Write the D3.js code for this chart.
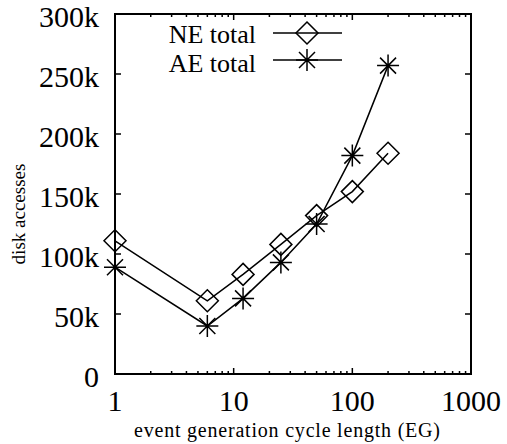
<!DOCTYPE html>
<html><head><meta charset="utf-8">
<script src="https://cdn.jsdelivr.net/npm/d3@7"></script>
<style>body{margin:0;background:#fff}svg{display:block}</style>
</head><body>
<script>
const xValues = [1, 6, 12, 25, 50, 100, 200];
const neTotal = [111000, 61000, 83000, 108000, 132000, 152000, 184000];
const aeTotal = [89000, 40000, 63000, 93000, 125000, 182000, 257000];
const yTicks = [0, 50000, 100000, 150000, 200000, 250000, 300000];
const yTickLabels = ["0", "50k", "100k", "150k", "200k", "250k", "300k"];
const xTicks = [1, 10, 100, 1000];
const xTickLabels = ["1", "10", "100", "1000"];
const seriesNames = ["NE total", "AE total"];

const FONT = "'Liberation Serif', 'Times New Roman', Times, 'DejaVu Serif', serif";
const W = 507, H = 444;
const m = {left: 115, right: 471, top: 14, bottom: 374};
const svg = d3.select("body").append("svg").attr("width", W).attr("height", H)
  .attr("font-family", FONT);
const x = d3.scaleLog().domain([1, 1000]).range([m.left, m.right]);
const y = d3.scaleLinear().domain([0, 300000]).range([m.bottom, m.top]);

// minor ticks
const minor = [];
for (let d = 1; d < 1000; d *= 10) for (let k = 2; k <= 9; k++) minor.push(d * k);
const g = svg.append("g").attr("stroke", "#000").attr("stroke-width", 1.5);
minor.forEach(v => {
  g.append("line").attr("x1", x(v)).attr("x2", x(v)).attr("y1", m.bottom).attr("y2", m.bottom - 3);
  g.append("line").attr("x1", x(v)).attr("x2", x(v)).attr("y1", m.top).attr("y2", m.top + 3);
});
xTicks.forEach(v => {
  g.append("line").attr("x1", x(v)).attr("x2", x(v)).attr("y1", m.bottom).attr("y2", m.bottom - 6);
  g.append("line").attr("x1", x(v)).attr("x2", x(v)).attr("y1", m.top).attr("y2", m.top + 6);
});
yTicks.forEach(v => {
  g.append("line").attr("x1", m.left).attr("x2", m.left + 6).attr("y1", y(v)).attr("y2", y(v));
  g.append("line").attr("x1", m.right).attr("x2", m.right - 6).attr("y1", y(v)).attr("y2", y(v));
});
svg.append("rect").attr("x", m.left).attr("y", m.top).attr("width", m.right - m.left).attr("height", m.bottom - m.top)
  .attr("fill", "none").attr("stroke", "#000").attr("stroke-width", 2);

// tick labels
yTicks.forEach((v, i) => {
  svg.append("text").attr("x", 99).attr("y", y(v) + 13).attr("text-anchor", "end")
    .attr("font-family", FONT).attr("font-size", 30).text(yTickLabels[i]);
});
xTicks.forEach((v, i) => {
  svg.append("text").attr("x", x(v)).attr("y", 411).attr("text-anchor", "middle")
    .attr("font-family", FONT).attr("font-size", 30).text(xTickLabels[i]);
});
svg.append("text").attr("x", 287).attr("y", 437).attr("text-anchor", "middle")
  .attr("font-family", FONT).attr("font-size", 20).attr("textLength", 306).attr("lengthAdjust", "spacing")
  .text("event generation cycle length (EG)");
svg.append("text").attr("transform", "translate(25,214) rotate(-90)").attr("text-anchor", "middle")
  .attr("font-family", FONT).attr("font-size", 19).text("disk accesses");

// markers
function diamond(sel, cx, cy) {
  const s = 11;
  sel.append("path").attr("d", `M${cx},${cy - s}L${cx + s},${cy}L${cx},${cy + s}L${cx - s},${cy}Z`)
    .attr("fill", "none").attr("stroke", "#000").attr("stroke-width", 1.5);
}
function star(sel, cx, cy) {
  const s = 11, d = 8;
  sel.append("path").attr("d",
    `M${cx - s},${cy}L${cx + s},${cy}M${cx},${cy - s}L${cx},${cy + s}` +
    `M${cx - d},${cy - d}L${cx + d},${cy + d}M${cx - d},${cy + d}L${cx + d},${cy - d}`)
    .attr("fill", "none").attr("stroke", "#000").attr("stroke-width", 1.5);
}
const line = d3.line().x(d => x(d[0])).y(d => y(d[1]));
const series = [neTotal, aeTotal];
const markers = [diamond, star];
series.forEach((vals, si) => {
  const pts = xValues.map((v, i) => [v, vals[i]]);
  svg.append("path").attr("d", line(pts)).attr("fill", "none").attr("stroke", "#000").attr("stroke-width", 1.5);
  pts.forEach(p => markers[si](svg, x(p[0]), y(p[1])));
});

// legend
const legY = [33, 60];
const legBase = [43, 72];
seriesNames.forEach((name, i) => {
  svg.append("text").attr("x", 256).attr("y", legBase[i]).attr("text-anchor", "end")
    .attr("font-family", FONT).attr("font-size", 26).text(name);
  svg.append("line").attr("x1", 273).attr("x2", 342).attr("y1", legY[i]).attr("y2", legY[i])
    .attr("stroke", "#000").attr("stroke-width", 1.5);
  markers[i](svg, 307, legY[i]);
});
</script>
</body></html>
